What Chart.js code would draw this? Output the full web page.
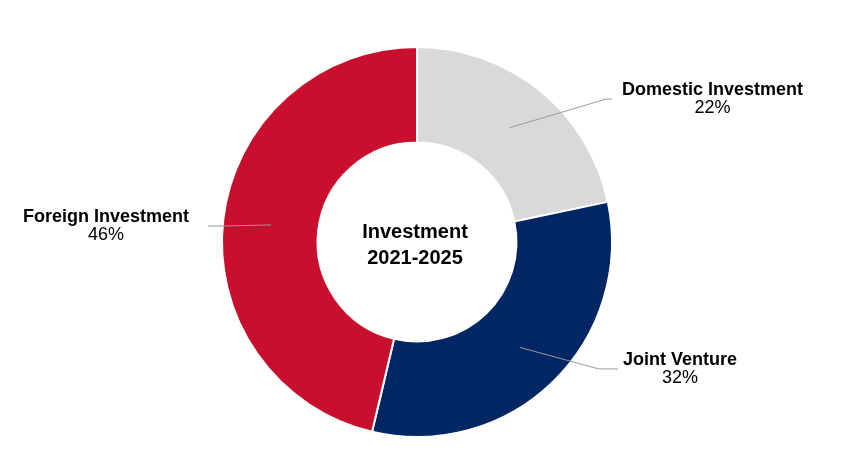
<!DOCTYPE html>
<html lang="en">
<head>
    <meta charset="UTF-8">
    <title>Investment 2021-2025</title>
    <script src="https://cdn.jsdelivr.net/npm/chart.js"></script>
    <style>
        body {
            margin: 0;
            background: #fff;
            font-family: "Liberation Sans", Arial, sans-serif;
        }
        #wrap {
            width: 850px;
            height: 470px;
        }
    </style>
</head>
<body>
    <div id="wrap"><canvas id="investChart"></canvas></div>

    <script>
        const labels = ["Domestic Investment", "Joint Venture", "Foreign Investment"];
        const shares = [21.7, 32.0, 46.3];
        const colors = ['#d9d9d9', '#002664', '#c8102e'];
        const centerLines = ["Investment", "2021-2025"];

        // where each label sits, relative to the doughnut centre, in units of the outer radius
        const labelSpots = [
            { bend: [0.970, -0.733], end: [1.0, -0.733], text: [1.515, -0.733] },
            { bend: [0.933, 0.651], end: [1.031, 0.651], text: [1.349, 0.651] },
            { bend: [-1.0, -0.082], end: [-1.072, -0.082], text: [-1.595, -0.082] }
        ];

        const FONT = '"Liberation Sans", Arial, sans-serif';

        // leader lines + outside labels
        const calloutPlugin = {
            id: 'callouts',
            afterDatasetsDraw(chart) {
                const ctx = chart.ctx;
                const arcs = chart.getDatasetMeta(0).data;
                arcs.forEach((arc, i) => {
                    const p = arc.getProps(['x', 'y', 'startAngle', 'endAngle', 'innerRadius', 'outerRadius'], true);
                    const mid = (p.startAngle + p.endAngle) / 2;
                    const rr = (p.innerRadius + p.outerRadius) / 2;
                    const R = p.outerRadius;
                    const spot = labelSpots[i];

                    ctx.save();
                    ctx.strokeStyle = '#9a9a9a';
                    ctx.lineWidth = 1;
                    ctx.beginPath();
                    ctx.moveTo(p.x + Math.cos(mid) * rr, p.y + Math.sin(mid) * rr);
                    ctx.lineTo(p.x + spot.bend[0] * R, p.y + spot.bend[1] * R);
                    ctx.lineTo(p.x + spot.end[0] * R, p.y + spot.end[1] * R);
                    ctx.stroke();

                    const tx = p.x + spot.text[0] * R;
                    const ty = p.y + spot.text[1] * R;
                    ctx.fillStyle = '#000';
                    ctx.textAlign = 'center';
                    ctx.textBaseline = 'middle';
                    ctx.font = 'bold 18px ' + FONT;
                    ctx.fillText(labels[i], tx, ty - 9);
                    ctx.font = '18px ' + FONT;
                    ctx.fillText(Math.round(shares[i]) + '%', tx, ty + 9);
                    ctx.restore();
                });

                // centre title
                const first = arcs[0];
                ctx.save();
                ctx.fillStyle = '#000';
                ctx.textAlign = 'center';
                ctx.textBaseline = 'middle';
                ctx.font = 'bold 20px ' + FONT;
                ctx.fillText(centerLines[0], first.x - 2, first.y - 10);
                ctx.fillText(centerLines[1], first.x - 2, first.y + 16);
                ctx.restore();
            }
        };

        const ctx = document.getElementById('investChart').getContext('2d');
        new Chart(ctx, {
            type: 'doughnut',
            data: {
                labels: labels,
                datasets: [{
                    data: shares,
                    backgroundColor: colors,
                    borderColor: '#ffffff',
                    borderWidth: 2
                }]
            },
            options: {
                responsive: true,
                maintainAspectRatio: false,
                animation: false,
                cutout: '51%',
                layout: {
                    padding: { top: 46, bottom: 32, left: 0, right: 16 }
                },
                plugins: {
                    legend: { display: false },
                    tooltip: { enabled: false }
                }
            },
            plugins: [calloutPlugin]
        });
    </script>
</body>
</html>
